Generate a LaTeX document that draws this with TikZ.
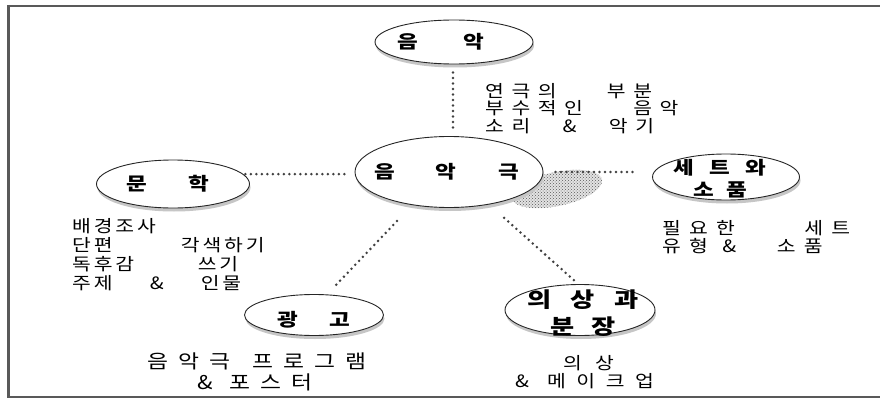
\documentclass[tikz,border=0pt]{standalone}
\usepackage{fontspec}
\usepackage{graphicx}
\setmainfont{Noto Sans CJK KR}
\newfontfamily\krA{Noto Sans CJK KR}[LetterSpace=37]
\newfontfamily\krB{Noto Sans CJK KR}[LetterSpace=14]
\newfontfamily\krC{Noto Sans CJK KR}[LetterSpace=45]
\newfontfamily\krD{Noto Sans CJK KR}[LetterSpace=40]
\newfontfamily\krE{Noto Sans CJK KR}[LetterSpace=52]
\newfontfamily\krL{Noto Sans CJK KR}[FakeStretch=1.25]
\newcommand\wgap[1]{\hspace{#1pt}}
\newcommand\sx[1]{\scalebox{1.2}[1]{#1}}
\usetikzlibrary{shapes.geometric,shadows,patterns}
\begin{document}
\begin{tikzpicture}[x=1pt,y=-1pt,
  bubble/.style={ellipse, draw=black!85, line width=0.9pt, fill=white, inner sep=0pt,
    general shadow={shadow xshift=1pt, shadow yshift=-3.5pt, fill=gray!45}},
  lbl/.style={font=\krL\bfseries\fontsize{18}{22}\selectfont, inner sep=0pt, align=center},
  desc/.style={inner sep=0pt, align=left, anchor=north west},
  conn/.style={line width=2.8pt, dash pattern=on 0pt off 5.5pt, line cap=round, draw=black!75},
  frameline/.style={draw=black!65},
  blob/.style={fill=gray!22, postaction={pattern=crosshatch dots, pattern color=gray!70!black}}]
\useasboundingbox (0,0) rectangle (880,401);
\fill[white] (0,0) rectangle (880,401);
% frame
\draw[frameline, line width=2pt] (7,6) -- (880,6);
\draw[frameline, line width=2pt] (7,397) -- (880,397);
\draw[frameline, line width=3pt] (8.5,5) -- (8.5,398);
% shaded blob beside the central node
\coordinate (cc) at (449,172);
\fill[blob] ([xshift=108pt,yshift=-17pt]cc) ellipse [x radius=46pt, y radius=17pt, rotate=12];
% nodes
\node[bubble, minimum width=188pt, minimum height=71pt] (center) at (cc) {};
\node[bubble, minimum width=158pt, minimum height=44pt] (muak) at (454,42) {};
\node[bubble, minimum width=153pt, minimum height=48pt] (munhak) at (173,184) {};
\node[bubble, minimum width=139pt, minimum height=41pt] (gwanggo) at (314,315) {};
\node[bubble, minimum width=147pt, minimum height=46pt] (setprop) at (726,177) {};
\node[bubble, minimum width=150pt, minimum height=51pt] (uisang) at (580,310) {};
% labels
\node[lbl] (centerT) at (447,172) {음\hspace{40pt}악\hspace{42pt}극};
\node[lbl] (muakT) at (441,42) {음\hspace{45.5pt}악};
\node[lbl] (munhakT) at (168,184) {문\hspace{41.5pt}학};
\node[lbl] (gwanggoT) at (314,320) {광\hspace{31.5pt}고};
\node[lbl] (setT) at (720,179) {세\hspace{15pt}트\hspace{15pt}와\\소\hspace{12pt}품};
\node[lbl, font=\krL\bfseries\fontsize{21}{27}\selectfont] (uisangT) at (583,313) {의\hspace{19pt}상\hspace{19pt}과\\분\hspace{17pt}장};
% connectors
\draw[conn, shorten <=8pt, shorten >=5pt] ([xshift=-1pt]muak.south) -- ([xshift=-1pt]muak.south |- center.north);
\draw[conn, shorten <=2pt, shorten >=5pt] (munhak.8) -- (munhak.8 -| center.west);
\draw[conn, shorten <=12pt, shorten >=15pt] (center.east) -- (center.east -| setprop.west);
\draw[conn, shorten <=22pt] (center.222) -- ([xshift=21pt,yshift=8pt]gwanggo.north);
\draw[conn, shorten <=20pt] (center.-39) -- ([xshift=-4pt,yshift=2pt]uisang.north);
% descriptions
\node[desc, font=\krA\fontsize{17}{17.5}\selectfont] (muakD) at (485,83)
  {\sx{연극의\wgap{42}부분}\\\sx{부수적인\wgap{42}음악}\\\sx{소리\wgap{27}\&\wgap{27}악기}};
\node[desc, font=\krB\fontsize{17}{19}\selectfont] (munhakD) at (72,218)
  {\sx{배경조사}\\\sx{단편\wgap{57}각색하기}\\\sx{독후감\wgap{53}쓰기}\\\sx{주제\wgap{31}\&\wgap{31}인물}};
\node[desc, font=\krC\fontsize{19}{21}\selectfont] (gwanggoD) at (147,353)
  {\sx{음악극\wgap{18}프로그램}\\\wgap{50}\sx{\&\wgap{14}포스터}};
\node[desc, font=\krD\fontsize{17}{18.5}\selectfont] (setpropD) at (662,220)
  {\sx{필요한\wgap{58}세트}\\\sx{유형\wgap{12}\&\wgap{34}소품}};
\node[desc, font=\krE\fontsize{17}{18.5}\selectfont] (uisangD) at (515,355)
  {\wgap{48}\sx{의\wgap{11}상}\\\sx{\&\wgap{15}메이크업}};
\end{tikzpicture}
\end{document}
